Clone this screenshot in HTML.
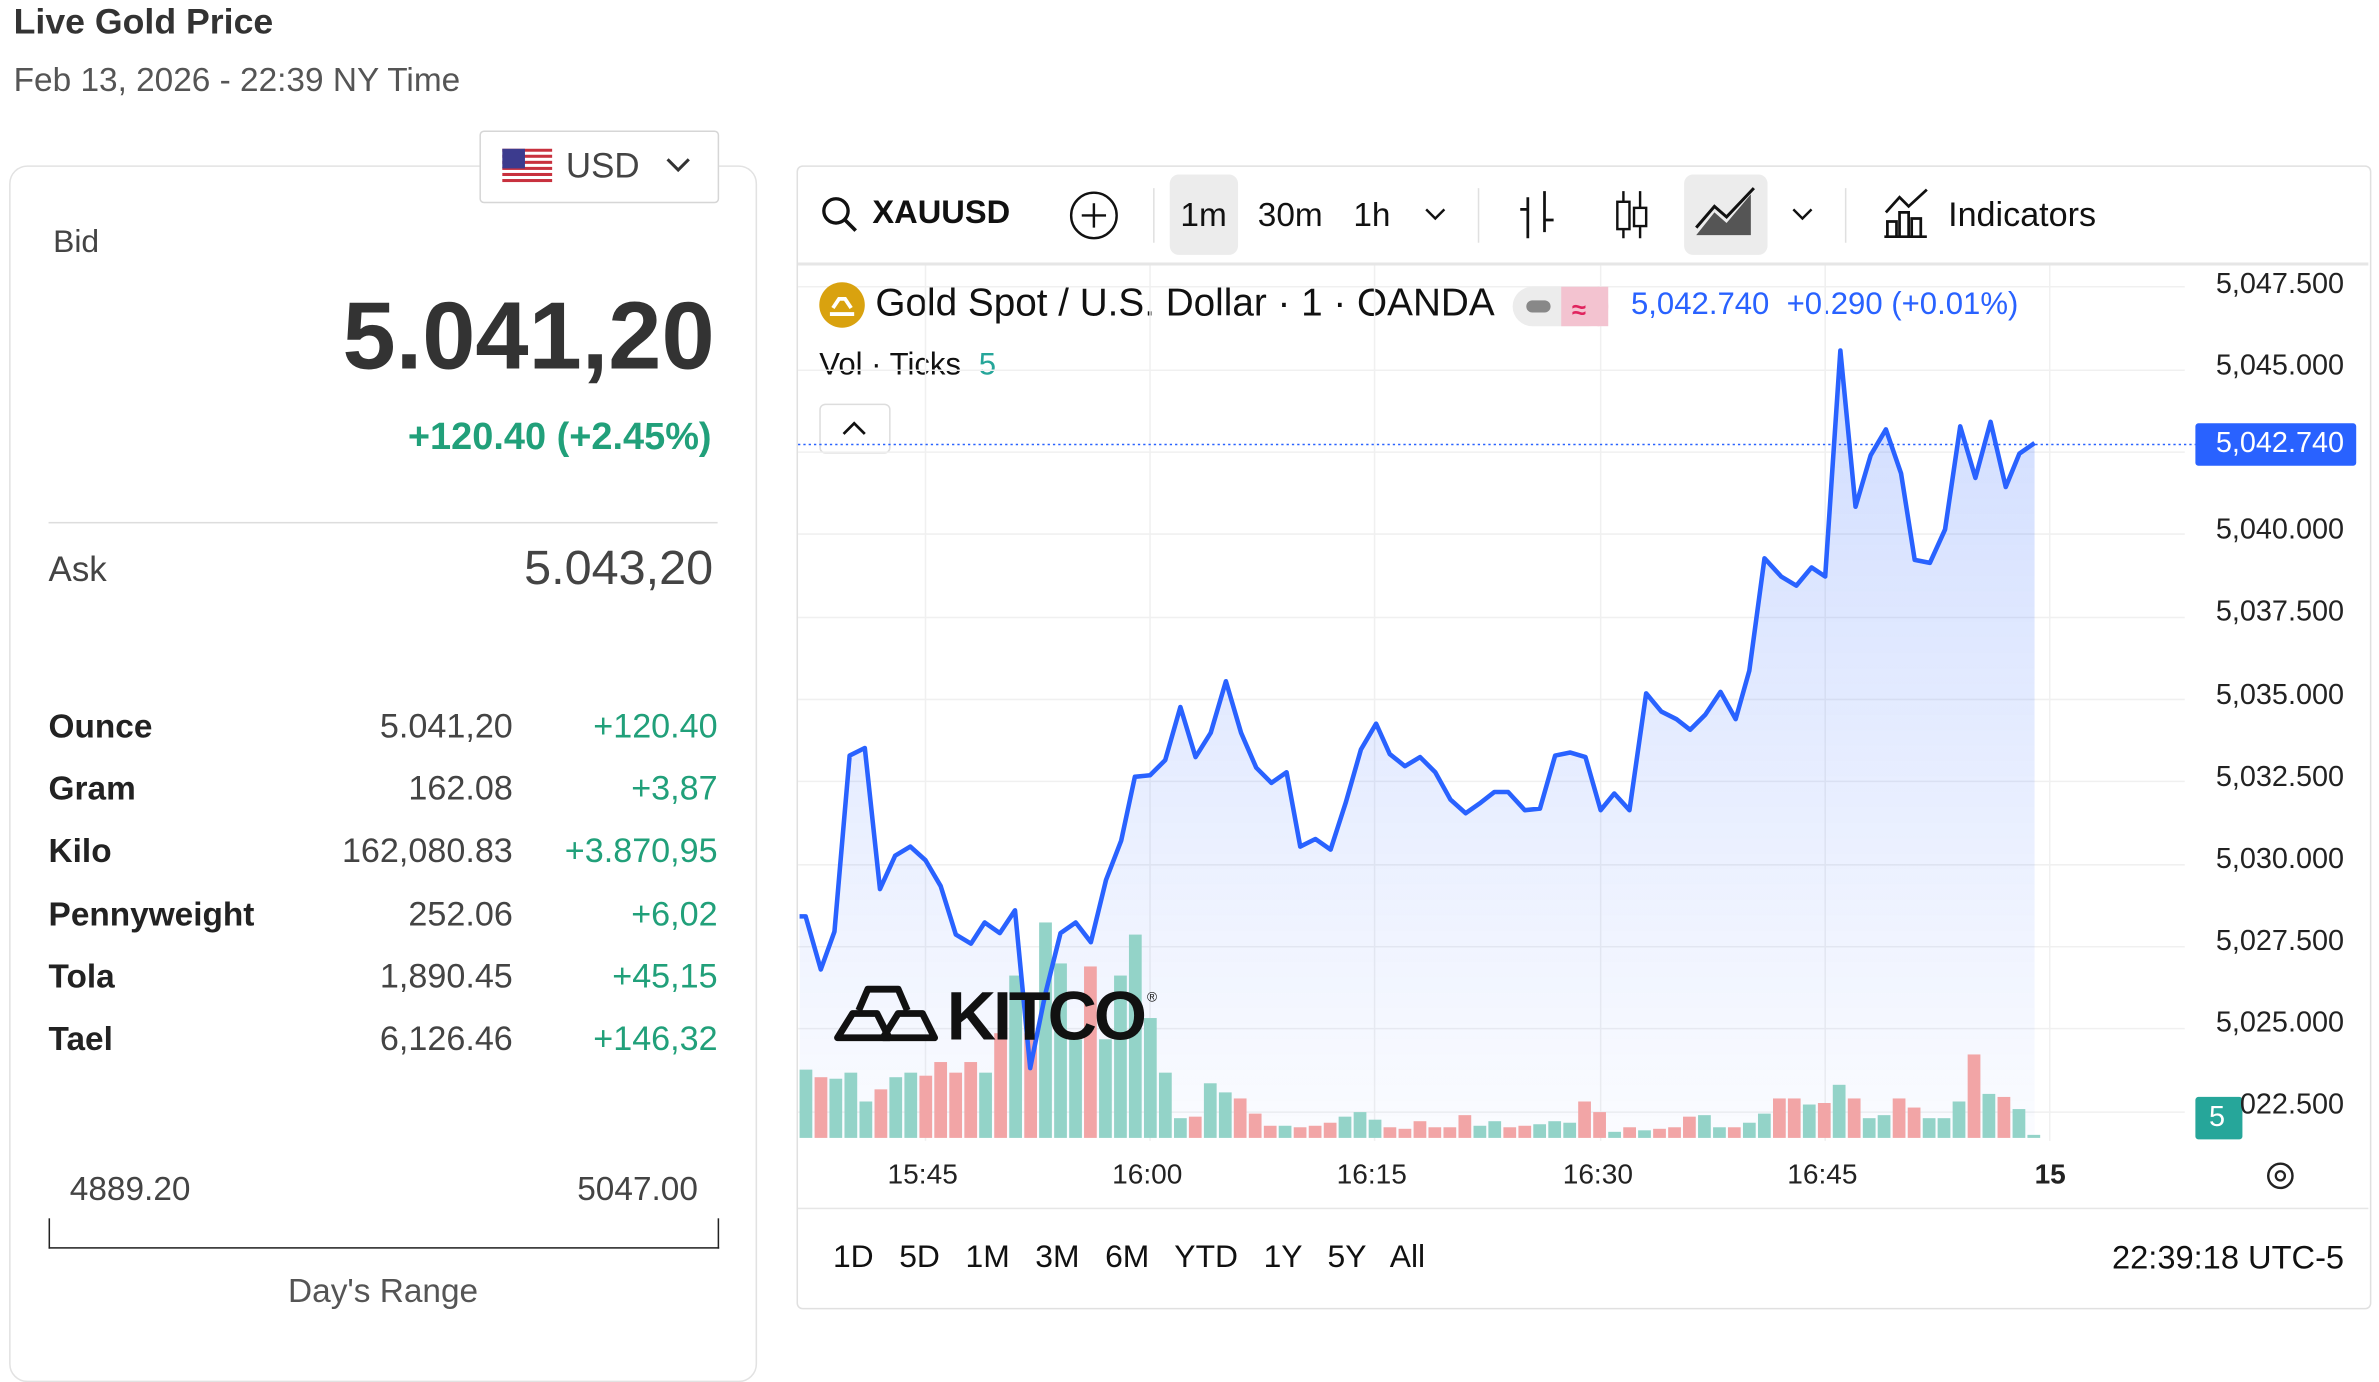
<!DOCTYPE html>
<html><head><meta charset="utf-8">
<style>
html,body{margin:0;padding:0;background:#fff;}
body{width:2379px;height:1319px;overflow:hidden;position:relative;font-family:"Liberation Sans",sans-serif;color:#333;}
#s{position:absolute;left:0;top:0;width:1568px;height:869px;transform:scale(1.5172);transform-origin:0 0;}
.a{position:absolute;white-space:nowrap;}
.r{text-align:right;}
.lbl{font-weight:bold;font-size:22px;color:#222;}
.val{font-size:22.5px;color:#444;}
.g{color:#21a07a;}
</style></head><body>
<div id="s">
<div class="a" style="left:9px;top:1px;font-size:23.5px;font-weight:bold;color:#333;">Live Gold Price</div>
<div class="a" style="left:9px;top:40px;font-size:22px;color:#555;">Feb 13, 2026 - 22:39 NY Time</div>

<div class="a" style="left:6px;top:109px;width:491px;height:800px;border:1px solid #e2e2e2;border-radius:12px;"></div>
<div class="a" style="left:316px;top:86px;width:156px;height:46px;border:1px solid #d6d6d6;border-radius:3px;background:#fff;"></div>
<svg class="a" style="left:331px;top:98px" width="33" height="24" viewBox="0 0 33 24">
<rect width="33" height="24" fill="#fff"/>
<g fill="#c8313e"><rect y="0" width="33" height="2"/><rect y="4" width="33" height="2"/><rect y="8" width="33" height="2"/><rect y="12" width="33" height="2"/><rect y="16" width="33" height="2"/><rect y="20" width="33" height="2"/></g>
<rect width="15" height="13" fill="#3c3b8e"/></svg>
<div class="a" style="left:373px;top:96px;font-size:23px;color:#444;">USD</div>
<svg class="a" style="left:438px;top:102px" width="18" height="14"><path d="M2 3 L9 10 L16 3" stroke="#333" stroke-width="2" fill="none"/></svg>

<div class="a" style="left:35px;top:148px;font-size:21px;color:#444;">Bid</div>
<div class="a r" style="right:1097px;top:186px;font-size:63px;font-weight:bold;color:#333;letter-spacing:0px;">5.041,20</div>
<div class="a r g" style="right:1099px;top:274px;font-size:25px;font-weight:bold;">+120.40 (+2.45%)</div>
<div class="a" style="left:32px;top:344px;width:441px;height:1px;background:#ddd;"></div>
<div class="a" style="left:32px;top:362px;font-size:23px;color:#444;">Ask</div>
<div class="a r" style="right:1098px;top:356px;font-size:32px;color:#444;">5.043,20</div>

<div class="a lbl" style="left:32px;top:466px;">Ounce</div><div class="a r val" style="right:1230px;top:466px;">5.041,20</div><div class="a r val g" style="right:1095px;top:466px;">+120.40</div>
<div class="a lbl" style="left:32px;top:507px;">Gram</div><div class="a r val" style="right:1230px;top:507px;">162.08</div><div class="a r val g" style="right:1095px;top:507px;">+3,87</div>
<div class="a lbl" style="left:32px;top:548px;">Kilo</div><div class="a r val" style="right:1230px;top:548px;">162,080.83</div><div class="a r val g" style="right:1095px;top:548px;">+3.870,95</div>
<div class="a lbl" style="left:32px;top:590px;">Pennyweight</div><div class="a r val" style="right:1230px;top:590px;">252.06</div><div class="a r val g" style="right:1095px;top:590px;">+6,02</div>
<div class="a lbl" style="left:32px;top:631px;">Tola</div><div class="a r val" style="right:1230px;top:631px;">1,890.45</div><div class="a r val g" style="right:1095px;top:631px;">+45,15</div>
<div class="a lbl" style="left:32px;top:672px;">Tael</div><div class="a r val" style="right:1230px;top:672px;">6,126.46</div><div class="a r val g" style="right:1095px;top:672px;">+146,32</div>

<div class="a" style="left:46px;top:771px;font-size:22px;color:#444;">4889.20</div>
<div class="a r" style="right:1108px;top:771px;font-size:22px;color:#444;">5047.00</div>
<div class="a" style="left:32px;top:803px;width:440px;height:19px;border:1.5px solid #222;border-top:none;"></div>
<div class="a" style="left:32px;top:838px;width:441px;text-align:center;font-size:22px;color:#555;">Day's Range</div>

<!-- chart panel -->
<div class="a" style="left:525px;top:109px;width:1036px;height:752px;border:1px solid #e0e0e0;border-radius:4px;"></div>
<div class="a" style="left:526px;top:173px;width:1035px;height:2px;background:#e6e6e6;"></div>
<div class="a" style="left:526px;top:796px;width:1035px;height:1px;background:#e6e6e6;"></div>
<div class="a" style="left:771px;top:115px;width:45px;height:53px;background:#ececec;border-radius:6px;"></div>
<div class="a" style="left:1110px;top:115px;width:55px;height:53px;background:#ececec;border-radius:6px;"></div>
<div class="a" style="left:760px;top:124px;width:1px;height:36px;background:#e0e0e0;"></div>
<div class="a" style="left:974px;top:124px;width:1px;height:36px;background:#e0e0e0;"></div>
<div class="a" style="left:1216px;top:124px;width:1px;height:36px;background:#e0e0e0;"></div>
<div class="a" style="left:575px;top:128px;font-size:21.5px;font-weight:bold;color:#111;">XAUUSD</div>
<div class="a" style="left:778px;top:129px;font-size:22px;color:#111;">1m</div>
<div class="a" style="left:829px;top:129px;font-size:22px;color:#111;">30m</div>
<div class="a" style="left:892px;top:129px;font-size:22px;color:#111;">1h</div>
<div class="a" style="left:1284px;top:129px;font-size:22.5px;color:#111;">Indicators</div>

<div class="a" style="left:577px;top:186px;font-size:25.5px;color:#111;">Gold Spot / U.S. Dollar · 1 · OANDA</div>
<div class="a" style="left:1075px;top:189px;font-size:20.5px;color:#2962ff;">5,042.740 &nbsp;+0.290 (+0.01%)</div>
<div class="a" style="left:540px;top:229px;font-size:20.5px;color:#111;">Vol · Ticks <span style="color:#26a69a;margin-left:6px;">5</span></div>
<div class="a" style="left:540px;top:266px;width:45px;height:31px;border:1px solid #ddd;border-radius:4px;background:#fff;"></div>

<div class="a" style="left:1447px;top:279px;width:106px;height:28px;background:#2962ff;border-radius:2px;"></div>
<div class="a r" style="right:23px;top:282px;font-size:19px;color:#fff;">5,042.740</div>
<div class="a" style="left:1447px;top:723px;width:31px;height:28px;background:#26a69a;border-radius:2px;"></div>
<div class="a" style="left:1456px;top:726px;font-size:19px;color:#fff;">5</div>

<div class="a r" style="right:23px;top:177px;font-size:19px;color:#222;">5,047.500</div>
<div class="a r" style="right:23px;top:231px;font-size:19px;color:#222;">5,045.000</div>
<div class="a r" style="right:23px;top:339px;font-size:19px;color:#222;">5,040.000</div>
<div class="a r" style="right:23px;top:393px;font-size:19px;color:#222;">5,037.500</div>
<div class="a r" style="right:23px;top:448px;font-size:19px;color:#222;">5,035.000</div>
<div class="a r" style="right:23px;top:502px;font-size:19px;color:#222;">5,032.500</div>
<div class="a r" style="right:23px;top:556px;font-size:19px;color:#222;">5,030.000</div>
<div class="a r" style="right:23px;top:610px;font-size:19px;color:#222;">5,027.500</div>
<div class="a r" style="right:23px;top:664px;font-size:19px;color:#222;">5,025.000</div>
<div class="a r" style="right:23px;top:718px;font-size:19px;color:#222;">022.500</div>

<div class="a" style="left:585px;top:763px;font-size:18.5px;color:#222;">15:45</div>
<div class="a" style="left:733px;top:763px;font-size:18.5px;color:#222;">16:00</div>
<div class="a" style="left:881px;top:763px;font-size:18.5px;color:#222;">16:15</div>
<div class="a" style="left:1030px;top:763px;font-size:18.5px;color:#222;">16:30</div>
<div class="a" style="left:1178px;top:763px;font-size:18.5px;color:#222;">16:45</div>
<div class="a" style="left:1341px;top:763px;font-size:18.5px;font-weight:bold;color:#222;">15</div>

<div class="a" style="left:549px;top:817px;font-size:21px;color:#111;word-spacing:11px;">1D 5D 1M 3M 6M YTD 1Y 5Y All</div>
<div class="a r" style="right:23px;top:817px;font-size:21.5px;color:#111;">22:39:18 UTC-5</div>

<svg class="a" style="left:0;top:0" width="1568" height="869">
<defs><linearGradient id="fg" x1="0" y1="0" x2="0" y2="1">
<stop offset="0" stop-color="#2962ff" stop-opacity="0.22"/><stop offset="1" stop-color="#2962ff" stop-opacity="0.02"/></linearGradient></defs>
<g stroke="#f0f0f0" stroke-width="1">
<line x1="526" y1="189" x2="1440" y2="189"/><line x1="526" y1="244" x2="1440" y2="244"/><line x1="526" y1="298" x2="1440" y2="298"/>
<line x1="526" y1="352" x2="1440" y2="352"/><line x1="526" y1="407" x2="1440" y2="407"/><line x1="526" y1="461" x2="1440" y2="461"/>
<line x1="526" y1="515" x2="1440" y2="515"/><line x1="526" y1="570" x2="1440" y2="570"/><line x1="526" y1="624" x2="1440" y2="624"/>
<line x1="526" y1="678" x2="1440" y2="678"/><line x1="526" y1="733" x2="1440" y2="733"/>
<line x1="610" y1="175" x2="610" y2="752"/><line x1="758" y1="175" x2="758" y2="752"/><line x1="906" y1="175" x2="906" y2="752"/>
<line x1="1055" y1="175" x2="1055" y2="752"/><line x1="1203" y1="175" x2="1203" y2="752"/><line x1="1351" y1="175" x2="1351" y2="752"/>
</g>
<polygon fill="url(#fg)" points="527,750 527,604 531,604 541,639 550,614 560,498 570,493 580,586 590,564 600,558 610,567 620,584 630,616 640,622 649,608 659,615 669,600 679,704 689,655 699,615 709,608 719,621 729,580 739,554 748,512 758,511 768,501 778,466 788,499 798,483 808,449 818,483 828,506 838,516 848,509 857,558 867,553 877,560 887,529 897,494 907,477 916,497 926,505 936,499 946,509 956,527 966,536 976,529 985,522 994,522 1005,534 1015,533 1025,498 1035,496 1045,499 1055,534 1064,523 1074,534 1085,457 1095,469 1105,474 1114,481 1124,471 1134,456 1144,474 1153,442 1163,368 1174,380 1184,386 1194,374 1203,380 1213,231 1223,334 1233,300 1243,283 1253,312 1262,369 1272,371 1282,349 1292,281 1302,315 1312,278 1322,321 1331,299 1341,292 1341,750"/>
<g fill="#93d3c8">
<rect x="527" y="705" width="8.4" height="45"/><rect x="546.7" y="711" width="8.4" height="39"/><rect x="556.6" y="707" width="8.4" height="43"/><rect x="566.5" y="726" width="8.4" height="24"/><rect x="586.2" y="710" width="8.4" height="40"/><rect x="596.1" y="707" width="8.4" height="43"/><rect x="645.4" y="707" width="8.4" height="43"/><rect x="665.2" y="643" width="8.4" height="107"/><rect x="684.9" y="608" width="8.4" height="142"/><rect x="694.8" y="635" width="8.4" height="115"/><rect x="704.7" y="685" width="8.4" height="65"/><rect x="724.4" y="685" width="8.4" height="65"/><rect x="734.3" y="643" width="8.4" height="107"/><rect x="744.1" y="616" width="8.4" height="134"/><rect x="754" y="671" width="8.4" height="79"/><rect x="763.9" y="707" width="8.4" height="43"/><rect x="773.8" y="737" width="8.4" height="13"/><rect x="793.5" y="714" width="8.4" height="36"/><rect x="803.4" y="720" width="8.4" height="30"/><rect x="842.8" y="742" width="8.4" height="8"/><rect x="882.3" y="736" width="8.4" height="14"/><rect x="892.2" y="733" width="8.4" height="17"/><rect x="902.1" y="738" width="8.4" height="12"/><rect x="971.2" y="742" width="8.4" height="8"/><rect x="981" y="739" width="8.4" height="11"/><rect x="1010.6" y="741" width="8.4" height="9"/><rect x="1020.5" y="739" width="8.4" height="11"/><rect x="1030.4" y="740" width="8.4" height="10"/><rect x="1060" y="746" width="8.4" height="4"/><rect x="1079.7" y="745" width="8.4" height="5"/><rect x="1119.2" y="735" width="8.4" height="15"/><rect x="1129.1" y="743" width="8.4" height="7"/><rect x="1148.8" y="740" width="8.4" height="10"/><rect x="1158.7" y="734" width="8.4" height="16"/><rect x="1188.3" y="728" width="8.4" height="22"/><rect x="1208" y="715" width="8.4" height="35"/><rect x="1227.8" y="737" width="8.4" height="13"/><rect x="1237.6" y="735" width="8.4" height="15"/><rect x="1267.3" y="737" width="8.4" height="13"/><rect x="1277.1" y="737" width="8.4" height="13"/><rect x="1287" y="726" width="8.4" height="24"/><rect x="1306.7" y="721" width="8.4" height="29"/><rect x="1326.5" y="731" width="8.4" height="19"/><rect x="1336.3" y="748" width="8.4" height="2"/>
</g>
<g fill="#f2a5a6">
<rect x="536.9" y="710" width="8.4" height="40"/><rect x="576.4" y="718" width="8.4" height="32"/><rect x="606" y="709" width="8.4" height="41"/><rect x="615.8" y="700" width="8.4" height="50"/><rect x="625.7" y="707" width="8.4" height="43"/><rect x="635.6" y="700" width="8.4" height="50"/><rect x="655.3" y="681" width="8.4" height="69"/><rect x="675.1" y="681" width="8.4" height="69"/><rect x="714.5" y="637" width="8.4" height="113"/><rect x="783.6" y="736" width="8.4" height="14"/><rect x="813.2" y="724" width="8.4" height="26"/><rect x="823.1" y="734" width="8.4" height="16"/><rect x="833" y="742" width="8.4" height="8"/><rect x="852.7" y="743" width="8.4" height="7"/><rect x="862.6" y="742" width="8.4" height="8"/><rect x="872.5" y="740" width="8.4" height="10"/><rect x="911.9" y="743" width="8.4" height="7"/><rect x="921.8" y="744" width="8.4" height="6"/><rect x="931.7" y="739" width="8.4" height="11"/><rect x="941.5" y="743" width="8.4" height="7"/><rect x="951.4" y="743" width="8.4" height="7"/><rect x="961.3" y="735" width="8.4" height="15"/><rect x="990.9" y="743" width="8.4" height="7"/><rect x="1000.8" y="742" width="8.4" height="8"/><rect x="1040.2" y="726" width="8.4" height="24"/><rect x="1050.1" y="733" width="8.4" height="17"/><rect x="1069.9" y="743" width="8.4" height="7"/><rect x="1089.6" y="744" width="8.4" height="6"/><rect x="1099.5" y="743" width="8.4" height="7"/><rect x="1109.3" y="736" width="8.4" height="14"/><rect x="1138.9" y="743" width="8.4" height="7"/><rect x="1168.6" y="724" width="8.4" height="26"/><rect x="1178.4" y="724" width="8.4" height="26"/><rect x="1198.2" y="727" width="8.4" height="23"/><rect x="1217.9" y="724" width="8.4" height="26"/><rect x="1247.5" y="724" width="8.4" height="26"/><rect x="1257.4" y="730" width="8.4" height="20"/><rect x="1296.9" y="695" width="8.4" height="55"/><rect x="1316.6" y="723" width="8.4" height="27"/>
</g>
<line x1="526" y1="293" x2="1447" y2="293" stroke="#2962ff" stroke-width="1" stroke-dasharray="1.5 2"/>
<polyline fill="none" stroke="#2962ff" stroke-width="3" stroke-linejoin="round" points="527,604 531,604 541,639 550,614 560,498 570,493 580,586 590,564 600,558 610,567 620,584 630,616 640,622 649,608 659,615 669,600 679,704 689,655 699,615 709,608 719,621 729,580 739,554 748,512 758,511 768,501 778,466 788,499 798,483 808,449 818,483 828,506 838,516 848,509 857,558 867,553 877,560 887,529 897,494 907,477 916,497 926,505 936,499 946,509 956,527 966,536 976,529 985,522 994,522 1005,534 1015,533 1025,498 1035,496 1045,499 1055,534 1064,523 1074,534 1085,457 1095,469 1105,474 1114,481 1124,471 1134,456 1144,474 1153,442 1163,368 1174,380 1184,386 1194,374 1203,380 1213,231 1223,334 1233,300 1243,283 1253,312 1262,369 1272,371 1282,349 1292,281 1302,315 1312,278 1322,321 1331,299 1341,292"/>
<!-- KITCO logo -->
<g fill="none" stroke="#111" stroke-width="4.5" stroke-linejoin="round">
<path d="M552 684 L562 668 L578 668 L586 684 Z"/><path d="M582 684 L592 668 L608 668 L616 684 Z"/><path d="M566 666 L572 652 L592 652 L598 666"/>
</g>
<text x="624" y="685" font-family="Liberation Sans,sans-serif" font-size="45" font-weight="bold" fill="#111" letter-spacing="-2">KITCO</text>
<text x="756" y="660" font-family="Liberation Sans,sans-serif" font-size="9" fill="#111">®</text>
<!-- icons -->
<circle cx="551" cy="139" r="8" fill="none" stroke="#111" stroke-width="2.2"/><line x1="557" y1="145" x2="564" y2="152" stroke="#111" stroke-width="2.4"/>
<circle cx="721" cy="142" r="15" fill="none" stroke="#111" stroke-width="1.6"/><path d="M721 134 V150 M713 142 H729" stroke="#111" stroke-width="1.6"/>
<path d="M940 138 L946 144 L952 138" stroke="#111" stroke-width="1.6" fill="none"/>
<path d="M1182 138 L1188 144 L1194 138" stroke="#111" stroke-width="1.6" fill="none"/>
<path d="M1007 130 V157 M1007 138 H1002 M1018 126 V153 M1018 145 H1024" stroke="#111" stroke-width="1.8" fill="none"/>
<path d="M1070 126 V157 M1081 126 V157" stroke="#111" stroke-width="1.6"/><rect x="1066" y="133" width="8" height="18" fill="#fff" stroke="#111" stroke-width="1.6"/><rect x="1077" y="137" width="8" height="12" fill="#fff" stroke="#111" stroke-width="1.6"/>
<path d="M1118 155 L1130 140 L1138 147 L1154 128 L1154 155 Z" fill="#555"/><path d="M1118 150 L1130 136 L1138 143 L1156 124" stroke="#111" stroke-width="2" fill="none"/>
<path d="M1242 156 H1270 M1244 156 V146 H1250 V156 M1252 156 V140 H1258 V156 M1260 156 V144 H1266 V156 M1243 140 L1252 130 L1258 136 L1270 125" stroke="#111" stroke-width="1.8" fill="none"/>
<circle cx="555" cy="201" r="15" fill="#d9a20f"/><path d="M547 207 H563 M549 203 L553 197 H557 L561 203" stroke="#fff" stroke-width="2.5" fill="none"/>
<rect x="997" y="189" width="63" height="26" rx="13" fill="#ececec"/><rect x="1029" y="189" width="31" height="26" rx="0" fill="#f3c3d0"/><rect x="1047" y="189" width="13" height="26" rx="13" fill="#f3c3d0"/>
<rect x="1006" y="198" width="16" height="8" rx="4" fill="#888"/>
<text x="1036" y="210" font-size="17" font-family="Liberation Sans,sans-serif" fill="#e0245e" font-weight="bold">≈</text>
<path d="M556 286 L563 279 L570 286" stroke="#111" stroke-width="1.8" fill="none"/>
<circle cx="1503" cy="775" r="8" fill="none" stroke="#222" stroke-width="1.6"/><circle cx="1503" cy="775" r="3" fill="none" stroke="#222" stroke-width="1.5"/>
</svg>
</div>
</body></html>
